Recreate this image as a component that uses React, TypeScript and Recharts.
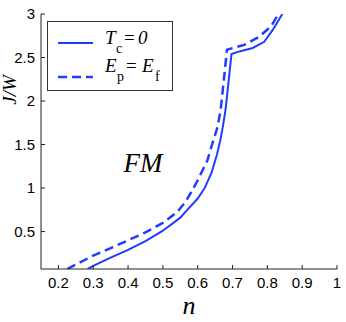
import React from 'react';
import { LineChart, Line, XAxis, YAxis, Legend, ReferenceDot } from 'recharts';

// Tc = 0 (solid)
const tcN = [0.284, 0.30, 0.35, 0.40, 0.45, 0.50, 0.55, 0.57, 0.60, 0.62, 0.64, 0.655, 0.665, 0.672, 0.680, 0.697, 0.72, 0.758, 0.791, 0.816, 0.843];
const tcJ = [0.07, 0.105, 0.20, 0.29, 0.39, 0.51, 0.66, 0.75, 0.88, 1.0, 1.18, 1.38, 1.55, 1.70, 1.90, 2.54, 2.57, 2.61, 2.68, 2.82, 3.0];

// Ep = Ef (dashed)
const epN = [0.225, 0.25, 0.30, 0.35, 0.40, 0.45, 0.50, 0.54, 0.565, 0.585, 0.60, 0.628, 0.645, 0.657, 0.666, 0.676, 0.684, 0.734, 0.777, 0.811, 0.832];
const epJ = [0.07, 0.12, 0.225, 0.31, 0.40, 0.49, 0.60, 0.72, 0.84, 0.98, 1.09, 1.32, 1.55, 1.70, 1.90, 2.28, 2.59, 2.645, 2.74, 2.86, 3.0];

const xTicks = [0.2, 0.3, 0.4, 0.5, 0.6, 0.7, 0.8, 0.9, 1];
const yTicks = [0.5, 1, 1.5, 2, 2.5, 3];
const xDomain = [0.15, 1];
const yDomain = [0.07, 3];

const regionLabel = 'FM';
const regionAt = { n: 0.443, j: 1.185 };

const tcData = tcN.map((x, i) => ({ x, y: tcJ[i] }));
const epData = epN.map((x, i) => ({ x, y: epJ[i] }));

const BLUE = '#1f3dff';
const serif = '"Liberation Serif", "DejaVu Serif", serif';
const sans = '"Liberation Sans", Arial, sans-serif';

const LegendBox = () => (
  <svg width={126} height={70} style={{ display: 'block' }}>
    <rect x={0.5} y={0.5} width={125} height={69} fill="#fff" stroke="#333" strokeWidth={1} />
    <line x1={11} x2={46} y1={22} y2={22} stroke={BLUE} strokeWidth={2} />
    <text fontFamily={serif} fontSize={19} fill="#000">
      <tspan x={58} y={23} fontStyle="italic">T</tspan>
      <tspan x={69} y={32} fontSize={14}>c</tspan>
      <tspan x={77} y={23}>=</tspan>
      <tspan x={91} y={23} fontStyle="italic">0</tspan>
    </text>
    <line x1={11} x2={46} y1={56} y2={56} stroke={BLUE} strokeWidth={2.5} strokeDasharray="9 5" />
    <text fontFamily={serif} fontSize={19} fill="#000">
      <tspan x={58} y={51} fontStyle="italic">E</tspan>
      <tspan x={70} y={60} fontSize={14}>p</tspan>
      <tspan x={79} y={51}>=</tspan>
      <tspan x={95} y={51} fontStyle="italic">E</tspan>
      <tspan x={108} y={60} fontSize={14}>f</tspan>
    </text>
  </svg>
);

const YLabel = () => {
  const cx = 9;
  const cy = 90;
  return (
    <text x={cx} y={cy} transform={`rotate(-90 ${cx} ${cy})`} textAnchor="middle" dominantBaseline="central"
      fontFamily={serif} fontStyle="italic" fontSize={19} fill="#000">J/W</text>
  );
};

const XLabel = (props: any) => {
  const vb = props.viewBox || { x: 41, y: 269, width: 296 };
  return (
    <text x={vb.x + vb.width / 2} y={vb.y + 45} textAnchor="middle"
      fontFamily={serif} fontStyle="italic" fontSize={26} fill="#000">n</text>
  );
};

const RegionLabel = (props: any) => {
  const vb = props.viewBox || { x: 0, y: 0 };
  return (
    <text x={vb.x} y={vb.y} textAnchor="middle" fontFamily={serif} fontStyle="italic" fontSize={27} fill="#000">
      {regionLabel}
    </text>
  );
};

const tickStyle = { fontSize: 15, fontFamily: sans, fill: '#000' };

export default function App() {
  return (
    <div style={{ position: 'absolute', left: 0, top: 0, background: '#fff' }}>
      <LineChart width={346} height={322} margin={{ top: 14, right: 9, bottom: 0, left: 0 }}>
        <XAxis xAxisId="b" type="number" dataKey="x" domain={xDomain} allowDataOverflow ticks={xTicks}
          interval={0} height={53} tickSize={-4} tickMargin={12} stroke="#222" tick={tickStyle}
          tickFormatter={(v: number) => String(v)} label={<XLabel />} />
        <XAxis xAxisId="t" type="number" dataKey="x" orientation="top" domain={xDomain} allowDataOverflow
          ticks={xTicks} interval={0} height={0} tickSize={-4} tick={false} stroke="#222" />
        <YAxis yAxisId="l" type="number" domain={yDomain} allowDataOverflow ticks={yTicks} interval={0}
          width={41} tickSize={-4} tickMargin={10} stroke="#222" tick={tickStyle}
          tickFormatter={(v: number) => String(v)} label={<YLabel />} />
        <YAxis yAxisId="r" type="number" orientation="right" domain={yDomain} allowDataOverflow ticks={yTicks}
          interval={0} width={0} tickSize={-4} tick={false} stroke="#222" />
        <Line xAxisId="b" yAxisId="l" data={tcData} dataKey="y" type="linear" stroke={BLUE} strokeWidth={2}
          dot={false} isAnimationActive={false} name="Tc=0" />
        <Line xAxisId="b" yAxisId="l" data={epData} dataKey="y" type="linear" stroke={BLUE} strokeWidth={2.5}
          strokeDasharray="9 5" dot={false} isAnimationActive={false} name="Ep=Ef" />
        <ReferenceDot xAxisId="b" yAxisId="l" x={regionAt.n} y={regionAt.j} r={0} fill="none" stroke="none"
          label={<RegionLabel />} />
        <Legend layout="horizontal" verticalAlign="middle" align="center" content={<LegendBox />}
          wrapperStyle={{ position: 'absolute', left: 47, top: 21, width: 126, height: 70 }} />
      </LineChart>
    </div>
  );
}
